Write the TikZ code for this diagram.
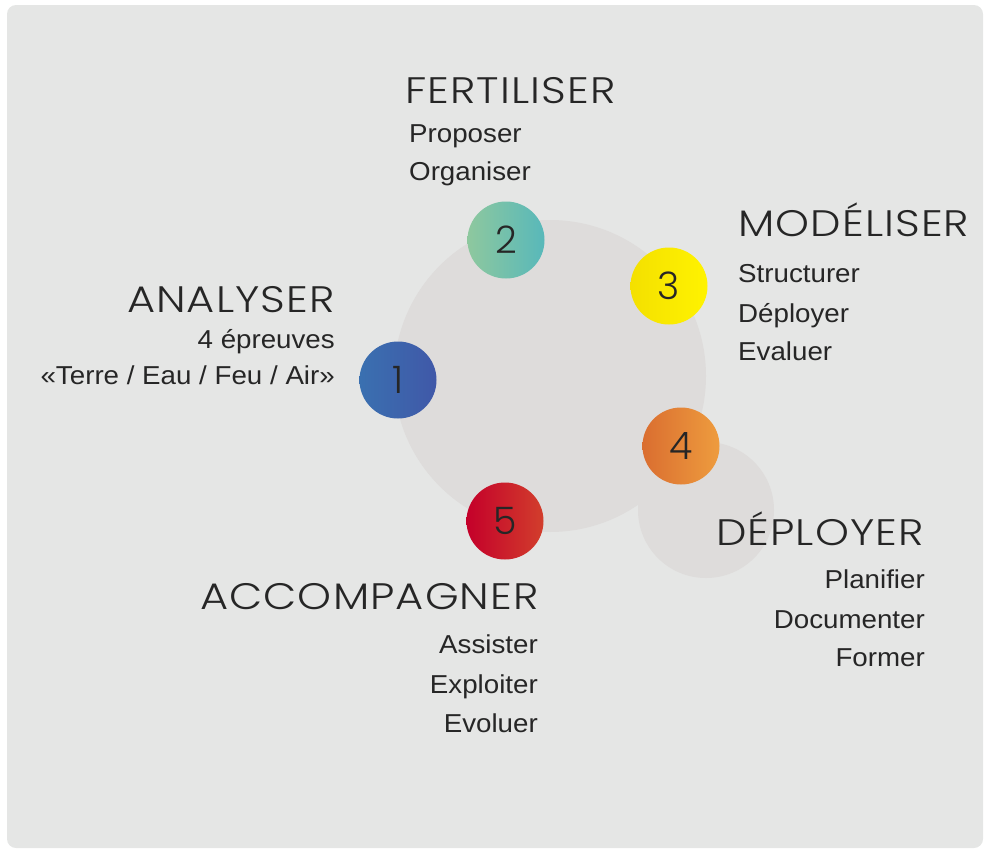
\documentclass[tikz,border=0pt]{standalone}
\usepackage{fontspec}
\setmainfont{Liberation Sans}[FakeStretch=1.07]
\newfontfamily\titlefont{Poppins Light}[FakeStretch=1.17, LetterSpace=3]
\newfontfamily\numfont{Poppins Light}
\definecolor{panel}{RGB}{229,230,229}
\definecolor{disc}{RGB}{222,220,219}
\definecolor{ink}{RGB}{38,38,38}
\definecolor{blueL}{RGB}{58,112,176}
\definecolor{blueR}{RGB}{64,88,168}
\definecolor{tealL}{RGB}{142,200,158}
\definecolor{tealR}{RGB}{88,184,186}
\definecolor{yellowL}{RGB}{244,224,0}
\definecolor{yellowR}{RGB}{255,243,0}
\definecolor{orangeL}{RGB}{218,110,48}
\definecolor{orangeR}{RGB}{238,156,62}
\definecolor{redL}{RGB}{196,0,42}
\definecolor{redR}{RGB}{210,62,44}
\begin{document}
\begin{tikzpicture}
  [x=1bp, y=-1bp,
   blob/.style = {circle, fill=disc, inner sep=0pt},
   stage/.style = {circle, minimum size=77bp, inner sep=0pt, text=ink,
                   font=\numfont\fontsize{38}{38}\selectfont},
   title/.style = {inner sep=0pt, text=ink, font=\titlefont\fontsize{37}{37}\selectfont},
   item/.style = {inner sep=0pt, text=ink, font=\fontsize{26}{39}\selectfont}]
  \useasboundingbox (0,0) rectangle (985,852);
  \fill[panel, rounded corners=9bp] (7,5) rectangle (983,848);
  % background discs
  \node[blob, minimum size=312bp] (hub) at (550,376) {};
  \node[blob, minimum size=136bp] (spur) at (706,510) {};
  % numbered stages
  \node[stage, left color=blueL, right color=blueR] (s1) at (398,380) {1};
  \node[stage, left color=tealL, right color=tealR] (s2) at (506,240) {2};
  \node[stage, left color=yellowL, right color=yellowR] (s3) at (669,286) {3};
  \node[stage, left color=orangeL, right color=orangeR] (s4) at (681,446) {4};
  \node[stage, left color=redL, right color=redR] (s5) at (505,521) {5};
  % 1
  \node[title, anchor=base east] (t1) at (335,312) {ANALYSER};
  \node[item, anchor=base east] (t1a) at (335,348) {4 épreuves};
  \node[item, anchor=base east] (t1b) at (335,384) {«Terre / Eau / Feu / Air»};
  % 2
  \node[title, anchor=base west] (t2) at (405,103) {FERTILISER};
  \node[item, anchor=base west] (t2a) at (409,142) {Proposer};
  \node[item, anchor=base west] (t2b) at (409,180) {Organiser};
  % 3
  \node[title, anchor=base west] (t3) at (738,236) {MODÉLISER};
  \node[item, anchor=base west] (t3a) at (738,282) {Structurer};
  \node[item, anchor=base west] (t3b) at (738,322) {Déployer};
  \node[item, anchor=base west] (t3c) at (738,360) {Evaluer};
  % 4
  \node[title, anchor=base east] (t4) at (924,545) {DÉPLOYER};
  \node[item, anchor=base east] (t4a) at (925,588) {Planifier};
  \node[item, anchor=base east] (t4b) at (925,628) {Documenter};
  \node[item, anchor=base east] (t4c) at (925,666) {Former};
  % 5
  \node[title, anchor=base east] (t5) at (539,609) {ACCOMPAGNER};
  \node[item, anchor=base east] (t5a) at (538,653) {Assister};
  \node[item, anchor=base east] (t5b) at (538,693) {Exploiter};
  \node[item, anchor=base east] (t5c) at (538,732) {Evoluer};
\end{tikzpicture}
\end{document}
